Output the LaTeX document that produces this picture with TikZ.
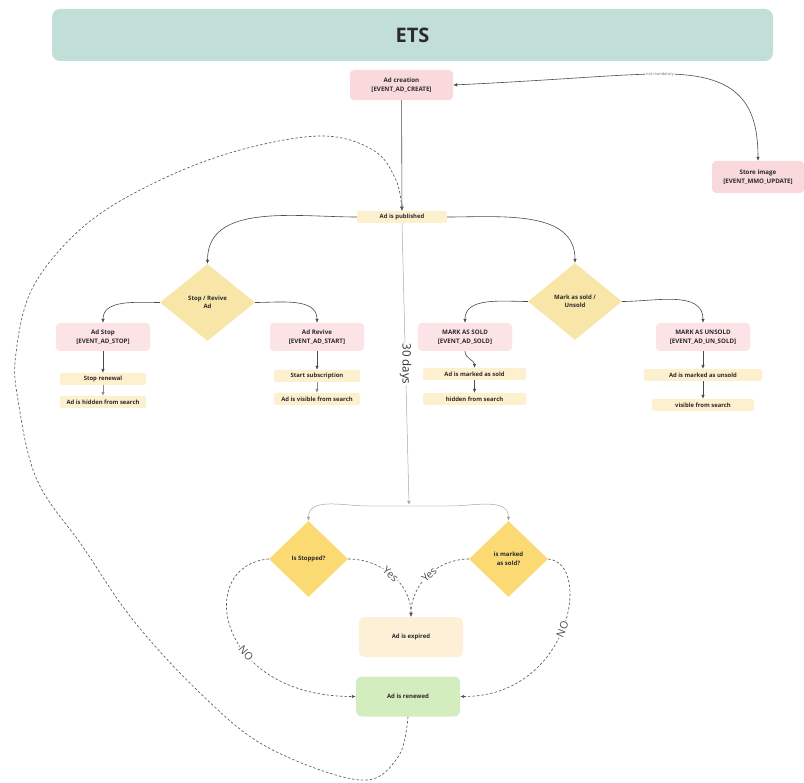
\documentclass[tikz,border=0pt]{standalone}
\usepackage{fontspec}
\setmainfont{Open Sans}
\usetikzlibrary{arrows.meta}
\usetikzlibrary{shapes.geometric}
\definecolor{etsteal}{HTML}{C2DFD7}
\definecolor{evtpink}{HTML}{F9D9DC}
\definecolor{evtpinklt}{HTML}{FCE3E5}
\definecolor{noteyel}{HTML}{FDF0CF}
\definecolor{choiceyel}{HTML}{F7E6A8}
\definecolor{checkyel}{HTML}{FBDA74}
\definecolor{expiredbg}{HTML}{FEEFD7}
\definecolor{renewbg}{HTML}{D4EDBE}
\definecolor{splitgray}{HTML}{EEEEEE}
\definecolor{inkgray}{HTML}{2B2B2B}
\tikzset{evt/.style = {fill=evtpinklt, rounded corners=4pt, minimum width=94pt, minimum height=28pt,
                       align=center, text=inkgray, font=\bfseries\fontsize{6.2}{8.5}\selectfont}}
\tikzset{note/.style = {fill=noteyel, rounded corners=1.5pt, minimum width=86pt, minimum height=12pt,
                        inner sep=0pt, text=inkgray, font=\bfseries\fontsize{5.9}{6}\selectfont}}
\tikzset{choice/.style = {diamond, inner sep=0pt, align=center, text=inkgray,
                          font=\bfseries\fontsize{6}{8.5}\selectfont}}
\tikzset{state/.style = {rounded corners=6pt, minimum width=104pt, minimum height=40pt,
                         text=inkgray, font=\bfseries\fontsize{6}{6}\selectfont}}
\tikzset{link/.style = {draw=inkgray!85, line width=0.6pt, ->}}
\tikzset{faint/.style = {draw=black!35, line width=0.5pt, ->}}
\tikzset{dashlink/.style = {draw=black!65, line width=0.65pt, dash pattern=on 2.5pt off 2pt, ->}}
\tikzset{verdict/.style = {fill=white, inner sep=1pt, text=black!70, font=\fontsize{10.5}{10.5}\selectfont}}

\begin{document}
\begin{tikzpicture}[x=1pt, y=1pt, >={Latex[length=4pt, width=3.6pt]}]
    \useasboundingbox (0,0) rectangle (804,-783);

    \node [fill=etsteal, rounded corners=8pt, minimum width=721pt, minimum height=52pt,
           text=inkgray, font=\bfseries\fontsize{20}{22}\selectfont] (ets) at (412.5,-35) {ETS};

    \node [evt, fill=evtpink, minimum width=103pt, minimum height=30pt] (create) at (401.5,-85) {Ad creation\\{}[EVENT\_AD\_CREATE]};
    \node [evt, fill=evtpink, minimum width=92pt, minimum height=32pt] (store) at (758,-177) {Store image\\{}[EVENT\_MMO\_UPDATE]};
    \node [note, minimum width=90pt] (pub) at (402,-217) {Ad is published};

    \node [choice, fill=choiceyel, minimum width=95pt, minimum height=77pt] (stoprev) at (207.5,-302.5) {Stop / Revive\\Ad};
    \node [choice, fill=choiceyel, minimum width=94pt, minimum height=77pt] (soldq) at (575,-301.5) {Mark as sold /\\Unsold};

    \node [evt] (adstop) at (103,-337) {Ad Stop\\{}[EVENT\_AD\_STOP]};
    \node [evt] (adrevive) at (317,-337) {Ad Revive\\{}[EVENT\_AD\_START]};
    \node [evt] (marksold) at (465,-337) {MARK AS SOLD\\{}[EVENT\_AD\_SOLD]};
    \node [evt] (markunsold) at (703,-337) {MARK AS UNSOLD\\{}[EVENT\_AD\_UN\_SOLD]};

    \node [note] (stopren) at (103,-379) {Stop renewal};
    \node [note] (hidden) at (103,-402) {Ad is hidden from search};
    \node [note] (startsub) at (317,-376) {Start subscription};
    \node [note] (visible) at (317,-399) {Ad is visible from search};
    \node [note, minimum width=103pt] (issold) at (474.5,-374) {Ad is marked as sold};
    \node [note, minimum width=103pt] (soldhidden) at (474.5,-399) {hidden from search};
    \node [note, minimum width=118pt] (isunsold) at (703,-375) {Ad is marked as unsold};
    \node [note, minimum width=102pt] (unsoldvis) at (703,-405) {visible from search};

    \node [fill=splitgray, minimum width=82pt, minimum height=2pt, inner sep=0pt] (split) at (409,-506) {};
    \node [choice, fill=checkyel, minimum width=79pt, minimum height=76pt] (stopq) at (308.5,-559) {Is Stopped?};
    \node [choice, fill=checkyel, minimum width=79pt, minimum height=76pt] (markq) at (508.5,-559) {is marked\\as sold?};
    \node [state, fill=expiredbg] (expired) at (411,-637) {Ad is expired};
    \node [state, fill=renewbg] (renewed) at (408,-696.5) {Ad is renewed};

    \draw [link, <->] (create.east) .. controls (560,-80) and (620,-74) .. (660,-74)
        node [fill=white, inner sep=0.8pt, text=black!55, font=\fontsize{4}{4}\selectfont] {not mandatory}
        .. controls (735,-73) and (758,-100) .. (store.north);
    \draw [link] (create) -- (pub);
    \draw [link] (pub.west) to [out=180, in=90] (stoprev.north);
    \draw [link] (pub.east) to [out=0, in=90] (soldq.north);
    \draw [link] (stoprev.west) to [out=180, in=90] (adstop.north);
    \draw [link] (stoprev.east) to [out=0, in=90] (adrevive.north);
    \draw [link] (soldq.west) to [out=180, in=90] (marksold.north);
    \draw [link] (soldq.east) to [out=0, in=90] (markunsold.north);

    \draw [link] (adstop) -- (stopren);
    \draw [link, draw=black!45] (stopren) -- (hidden);
    \draw [link] (adrevive) -- (startsub);
    \draw [link, draw=black!45] (startsub) -- (visible);
    \draw [link] (marksold.south) to [out=-90, in=90] (issold.north);
    \draw [link] (issold) -- (soldhidden);
    \draw [link] (markunsold) -- (isunsold);
    \draw [link] (isunsold) -- (unsoldvis);

    \draw [faint] (pub.south) -- node [rotate=-90, fill=white, inner sep=1pt, text=inkgray,
        font=\fontsize{11.5}{11.5}\selectfont] {30 days} (split.north);
    \draw [faint] (split.west) to [out=180, in=90] (stopq.north);
    \draw [faint] (split.east) to [out=0, in=90] (markq.north);

    \draw [dashlink] (stopq.east) to [out=0, in=90] node [verdict, sloped, pos=0.48] {Yes} (expired.north);
    \draw [dashlink] (markq.west) to [out=180, in=90] node [verdict, sloped, pos=0.48] {Yes} (expired.north);
    \draw [dashlink] (stopq.west) .. controls +(-74,-6) and +(-141,0) .. node [verdict, sloped, pos=0.62] {NO} (renewed.west);
    \draw [dashlink] (markq.east) .. controls +(45,-4) and +(110,0) .. node [verdict, sloped, pos=0.5] {NO} (renewed.east);

    \draw [dashlink] plot [smooth, tension=0.6] coordinates {(renewed.south) (398,-757) (360,-780) (267,-747)
        (200,-693) (133,-620) (83,-547) (37,-480) (18,-400) (16,-353) (33,-287) (83,-227) (150,-185)
        (233,-152) (320,-136) (373,-150) (396,-180) (pub.north)};
\end{tikzpicture}
\end{document}
